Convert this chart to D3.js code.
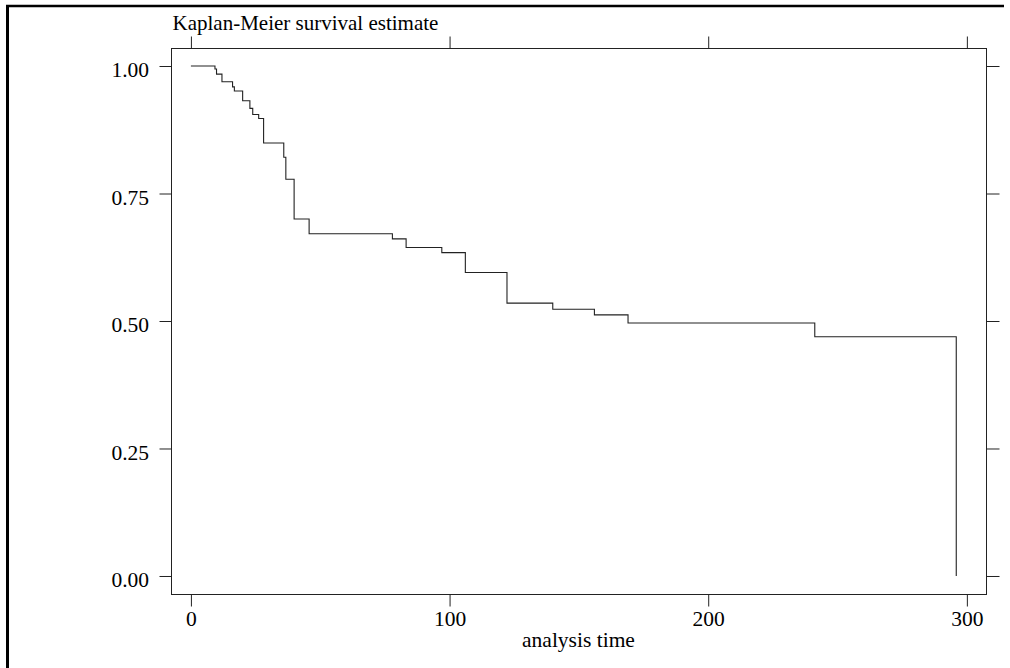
<!DOCTYPE html>
<html>
<head>
<meta charset="utf-8">
<script src="https://cdn.jsdelivr.net/npm/d3@7"></script>
<style>
  html, body { margin: 0; padding: 0; background: #fff; }
  svg { display: block; }
  text { font-family: "Liberation Serif", "Times New Roman", serif; fill: #000; }
</style>
</head>
<body>
<svg id="chart" width="1010" height="668"></svg>
<script>
// Kaplan-Meier step function: event times and survival estimate after each step
const times    = [0, 9.3, 9.9, 12.0, 16.1, 16.8, 20.0, 22.8, 23.9, 26.2, 28.1, 35.9, 36.7, 39.9,
                  45.7, 77.9, 83.2, 97.0, 106.1, 122.2, 139.9, 156.0, 169.0, 241.2, 295.9];
const survival = [1.000, 0.994, 0.984, 0.969, 0.959, 0.951, 0.932, 0.917, 0.905, 0.897, 0.849, 0.821, 0.778, 0.700,
                  0.671, 0.661, 0.644, 0.634, 0.595, 0.535, 0.523, 0.512, 0.496, 0.469, 0.000];

const xTicks = [0, 100, 200, 300];
const yTicks = [0, 0.25, 0.5, 0.75, 1];
const yTickLabels = ["0.00", "0.25", "0.50", "0.75", "1.00"];

const titleText = "Kaplan-Meier survival estimate";
const xTitle = "analysis time";

const svg = d3.select("#chart");
const W = 1010, H = 668;
const box = { left: 171, top: 48, right: 986, bottom: 594 };

const x = d3.scaleLinear().domain([-7.7, 307.4]).range([box.left, box.right]);
const y = d3.scaleLinear().domain([-0.0353, 1.0353]).range([box.bottom, box.top]);

const fontSize = 21.5;
const titleSize = 21;
const lineColor = "#222";

// outer frame: heavy rule along top and left edges
svg.append("line").attr("x1", 6).attr("x2", 1004).attr("y1", 6).attr("y2", 6)
  .attr("stroke", "#000").attr("stroke-width", 2.4);
svg.append("line").attr("x1", 7.5).attr("x2", 7.5).attr("y1", 5).attr("y2", H)
  .attr("stroke", "#000").attr("stroke-width", 3);

// plot region outline
svg.append("rect")
  .attr("x", box.left + 0.5).attr("y", box.top + 0.5)
  .attr("width", box.right - box.left).attr("height", box.bottom - box.top)
  .attr("fill", "none").attr("stroke", lineColor).attr("stroke-width", 1);

function styleAxis(g) {
  g.select(".domain").remove();
  g.selectAll(".tick line").attr("stroke", lineColor).attr("stroke-width", 1);
  g.selectAll(".tick text").style("font-size", fontSize + "px")
    .style("font-family", "'Liberation Serif', 'Times New Roman', serif");
}

// left axis with labels
svg.append("g").attr("transform", `translate(${box.left + 0.5},0)`)
  .call(d3.axisLeft(y).tickValues(yTicks).tickSize(12).tickPadding(10.5)
        .tickFormat((d, i) => yTickLabels[i]))
  .call(styleAxis)
  .call(g => g.selectAll(".tick text").attr("dy", "0.49em"));

// right axis, ticks only
svg.append("g").attr("transform", `translate(${box.right + 0.5},0)`)
  .call(d3.axisRight(y).tickValues(yTicks).tickSize(13).tickFormat(""))
  .call(styleAxis);

// bottom axis with labels
svg.append("g").attr("transform", `translate(0,${box.bottom + 0.5})`)
  .call(d3.axisBottom(x).tickValues(xTicks).tickSize(12).tickPadding(4.7)
        .tickFormat(d3.format("d")))
  .call(styleAxis);

// top axis, ticks only
svg.append("g").attr("transform", `translate(0,${box.top + 0.5})`)
  .call(d3.axisTop(x).tickValues(xTicks).tickSize(12).tickFormat(""))
  .call(styleAxis);

// survival curve
const pts = times.map((t, i) => [t, survival[i]]);
svg.append("path")
  .datum(pts)
  .attr("fill", "none")
  .attr("stroke", lineColor)
  .attr("stroke-width", 1.1)
  .attr("d", d3.line().x(d => x(d[0])).y(d => y(d[1])).curve(d3.curveStepAfter));

// titles
svg.append("text").attr("x", 172.5).attr("y", 29.5)
  .style("font-size", titleSize + "px").text(titleText);

svg.append("text").attr("x", (box.left + box.right) / 2).attr("y", 647)
  .attr("text-anchor", "middle")
  .style("font-size", fontSize + "px").text(xTitle);
</script>
</body>
</html>
